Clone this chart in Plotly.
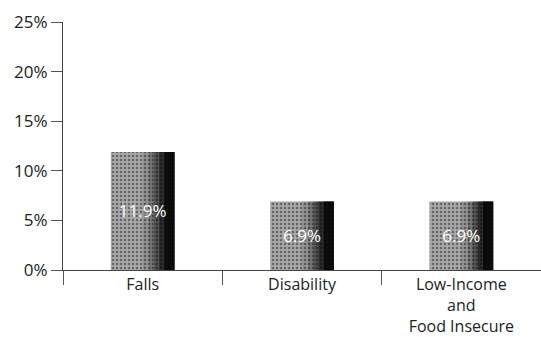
import plotly.graph_objects as go

# Share of respondents by risk group
categories = ["Falls", "Disability", "Low-Income<br>and<br>Food Insecure"]
values = [11.9, 6.9, 6.9]
value_labels = ["11.9%", "6.9%", "6.9%"]
y_ticks = [0, 5, 10, 15, 20, 25]
y_tick_labels = ["0%", "5%", "10%", "15%", "20%", "25%"]

FONT = "'Open Sans', Lato, sans-serif"
BAR_W = 0.4

fig = go.Figure()

# Base bar: speckled mid gray
fig.add_trace(go.Bar(
    x=categories, y=values, width=BAR_W,
    marker=dict(
        color="#9c9c9c",
        line=dict(width=0),
        pattern=dict(shape=".", fgcolor="#666666", bgcolor="#a8a8a8",
                     size=4, solidity=0.3, fillmode="replace"),
    ),
    hoverinfo="skip",
))
# Overlapping translucent strips darken the bar toward its right edge
shade_steps = [(0.50, 0.12), (0.60, 0.2), (0.68, 0.3), (0.76, 0.45), (0.84, 0.7)]
for start, alpha in shade_steps:
    fig.add_trace(go.Bar(
        x=categories, y=values,
        width=BAR_W * (1 - start), offset=BAR_W * (start - 0.5),
        marker=dict(color=f"rgba(0,0,0,{alpha})", line=dict(width=0)),
        hoverinfo="skip",
    ))
# Value labels centred in the bars
fig.add_trace(go.Bar(
    x=categories, y=values, width=BAR_W,
    marker=dict(color="rgba(0,0,0,0)", line=dict(width=0)),
    text=value_labels, textposition="inside", insidetextanchor="middle",
    textfont=dict(family=FONT, size=17, color="white"),
    hoverinfo="skip",
))

fig.update_layout(
    width=541, height=337,
    margin=dict(l=63, r=0, t=22, b=67),
    paper_bgcolor="white", plot_bgcolor="white",
    barmode="overlay", showlegend=False,
    font=dict(family=FONT, size=16, color="#222"),
)
fig.update_xaxes(
    type="category", tickson="boundaries", automargin=False,
    ticks="outside", ticklen=14, tickwidth=1, tickcolor="#555",
    showline=True, linecolor="#444", linewidth=1,
    showgrid=False, tickfont=dict(family=FONT, size=16, color="#222"),
    range=[-0.5, 2.5],
)
fig.update_yaxes(
    range=[0, 25], tickvals=y_ticks, ticktext=y_tick_labels, automargin=False,
    ticks="outside", ticklen=11, tickwidth=1, tickcolor="#555",
    showline=True, linecolor="#444", linewidth=1,
    showgrid=False, zeroline=False,
    tickfont=dict(family=FONT, size=17, color="#222"),
)

fig.write_html("out.html")
